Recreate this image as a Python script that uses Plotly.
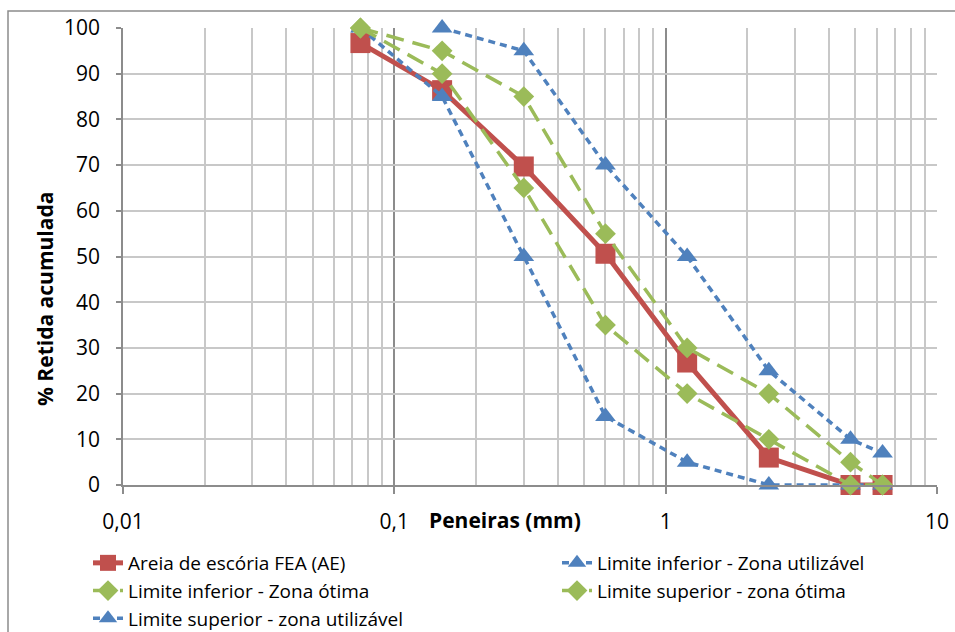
import plotly.graph_objects as go

sieves = [0.075, 0.15, 0.3, 0.6, 1.2, 2.4, 4.8, 6.3]
areia_fea = [96.7, 86.4, 69.7, 50.6, 26.8, 6.0, 0, 0]
lim_inf_util = [100, 85, 50, 15, 5, 0, 0, 0]
lim_inf_otima = [100, 90, 65, 35, 20, 10, 0, 0]
lim_sup_otima = [100, 95, 85, 55, 30, 20, 5, 0]
lim_sup_util = [None, 100, 95, 70, 50, 25, 10, 7]

names = ["Areia de escória FEA (AE)",
         "Limite inferior - Zona utilizável",
         "Limite inferior - Zona ótima",
         "Limite superior - zona ótima",
         "Limite superior - zona utilizável"]

x_tickvals = [0.01, 0.1, 1, 10]
x_ticktext = ["0,01", "0,1", "1", "10"]
x_minor = [m * d for d in [0.01, 0.1, 1] for m in range(2, 10)]

RED = "#C0504D"
BLUE = "#4F81BD"
GREEN = "#9BBB59"
FONT = "Open Sans, Liberation Sans, sans-serif"

fig = go.Figure()
fig.add_trace(go.Scatter(x=sieves, y=areia_fea, name=names[0], mode="lines+markers",
                         line=dict(color=RED, width=5), cliponaxis=False,
                         marker=dict(symbol="square", size=20, color=RED)))
fig.add_trace(go.Scatter(x=sieves, y=lim_inf_util, name=names[1], mode="lines+markers",
                         line=dict(color=BLUE, width=3.5, dash="7px,5px"), cliponaxis=False,
                         marker=dict(symbol="triangle-up", size=18, color=BLUE)))
fig.add_trace(go.Scatter(x=sieves, y=lim_inf_otima, name=names[2], mode="lines+markers",
                         line=dict(color=GREEN, width=3.5, dash="18px,9px"), cliponaxis=False,
                         marker=dict(symbol="diamond", size=16, color=GREEN)))
fig.add_trace(go.Scatter(x=sieves, y=lim_sup_otima, name=names[3], mode="lines+markers",
                         line=dict(color=GREEN, width=3.5, dash="18px,9px"), cliponaxis=False,
                         marker=dict(symbol="diamond", size=16, color=GREEN)))
fig.add_trace(go.Scatter(x=sieves, y=lim_sup_util, name=names[4], mode="lines+markers",
                         line=dict(color=BLUE, width=3.5, dash="7px,5px"), cliponaxis=False,
                         marker=dict(symbol="triangle-up", size=18, color=BLUE),
                         connectgaps=False))

L, R, T, B = 123, 18, 28, 147
W, H = 955, 632
pw, ph = W - L - R, H - T - B

def px(x):
    return (x - L) / pw

def py(y):
    return (H - B - y) / ph

fig.update_layout(
    width=W, height=H,
    margin=dict(l=L, r=R, t=T, b=B, autoexpand=False),
    paper_bgcolor="white", plot_bgcolor="white",
    font=dict(family=FONT, size=21, color="black"),
    showlegend=True,
    legend=dict(orientation="h", x=px(88), y=py(544), xanchor="left", yanchor="top",
                entrywidth=424, entrywidthmode="pixels", traceorder="normal",
                font=dict(size=19), bgcolor="rgba(0,0,0,0)", tracegroupgap=0),
    xaxis=dict(type="log", range=[-2, 1], tickvals=x_tickvals, ticktext=x_ticktext,
               showgrid=True, gridcolor="#8C8C8C", gridwidth=1.5,
               showline=True, linecolor="#8C8C8C", linewidth=1.5,
               ticks="outside", ticklen=7, tickcolor="#8C8C8C", tickwidth=1.5,
               ticklabelstandoff=10, zeroline=False,
               minor=dict(tickvals=x_minor, showgrid=True, gridcolor="#C8C8C8",
                          gridwidth=1.5, ticks="")),
    yaxis=dict(range=[0, 100], dtick=10, showgrid=True, gridcolor="#C8C8C8", gridwidth=1.5,
               showline=True, linecolor="#8C8C8C", linewidth=1.5,
               ticks="outside", ticklen=5, tickcolor="#8C8C8C", tickwidth=1.5,
               ticklabelstandoff=12, zeroline=False),
    annotations=[
        dict(text="<b>% Retida acumulada</b>", xref="paper", yref="paper",
             x=px(45), y=py(299), textangle=-90, showarrow=False,
             font=dict(size=21), xanchor="center", yanchor="middle"),
        dict(text="<b>Peneiras (mm)</b>", xref="paper", yref="paper",
             x=px(505), y=py(520), showarrow=False,
             font=dict(size=21), xanchor="center", yanchor="middle"),
    ],
    shapes=[dict(type="rect", xref="paper", yref="paper",
                 x0=px(8), x1=px(975), y0=py(650), y1=py(11),
                 line=dict(color="#8C8C8C", width=1.5), fillcolor="rgba(0,0,0,0)",
                 layer="below")],
)

fig.write_html("out.html")
